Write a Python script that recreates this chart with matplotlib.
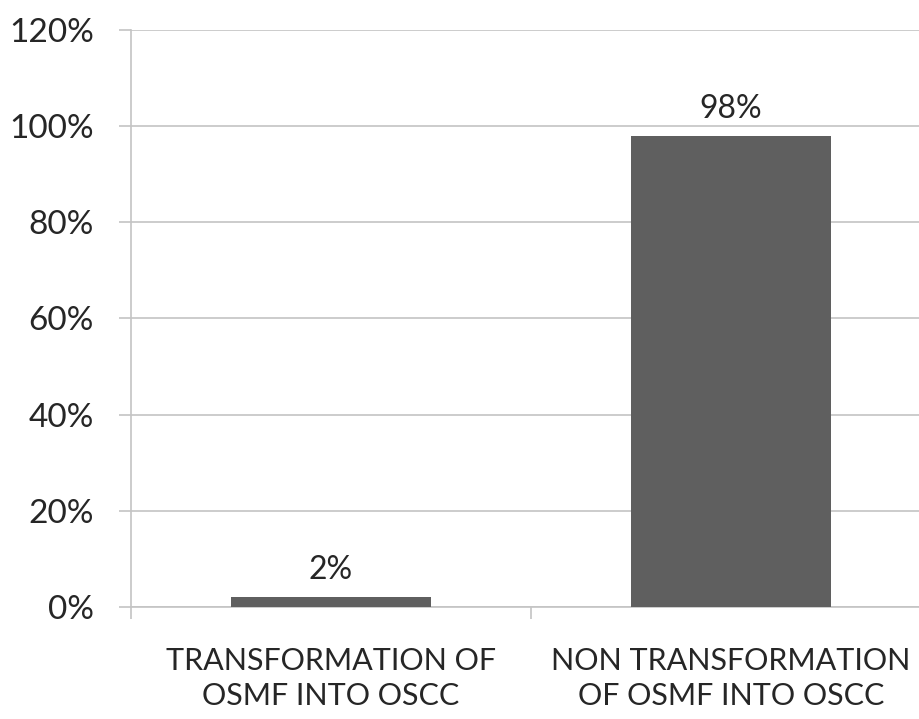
import matplotlib
matplotlib.use("Agg")
import matplotlib.pyplot as plt
from matplotlib.ticker import FuncFormatter

categories = ["TRANSFORMATION OF\nOSMF INTO OSCC", "NON TRANSFORMATION\nOF OSMF INTO OSCC"]
values = [2, 98]
y_ticks = [0, 20, 40, 60, 80, 100, 120]

plt.rcParams['font.family'] = ['Lato', 'DejaVu Sans']

fig = plt.figure(figsize=(9.2, 7.19), dpi=100)
ax = fig.add_axes([0.1424, 0.1558, 0.8696, 0.8025])

x = range(len(categories))
ax.bar(x, values, width=0.5, color="#5f5f5f", zorder=3)
for xi, v in zip(x, values):
    ax.text(xi, v + 2.5, f"{v}%", ha="center", va="bottom", fontsize=23, color="#262626")

ax.set_xlim(-0.5, 1.5)
ax.set_ylim(0, 120)
ax.set_yticks(y_ticks)
ax.yaxis.set_major_formatter(FuncFormatter(lambda v, p: f"{int(v)}%"))
ax.yaxis.grid(True, color="#c4c4c4", linewidth=1.2, zorder=0)

ax.set_xticks([-0.5, 0.5, 1.5])
ax.set_xticklabels([])
ax.set_xticks([0, 1], minor=True)
ax.set_xticklabels(categories, minor=True, fontsize=22, color="#262626", linespacing=1.3)
ax.tick_params(axis="x", which="minor", length=0, pad=29)
ax.tick_params(axis="x", which="major", length=8.6, color="#c4c4c4", width=1.2)
ax.tick_params(axis="y", length=8.6, color="#c4c4c4", width=1.2, labelsize=24, labelcolor="#262626", pad=18)

for s in ["top", "right"]:
    ax.spines[s].set_visible(False)
ax.spines["left"].set_color("#c4c4c4")
ax.spines["left"].set_linewidth(1.2)
ax.spines["bottom"].set_color("#c4c4c4")
ax.spines["bottom"].set_linewidth(1.2)

fig.savefig("out.png", dpi=100)
